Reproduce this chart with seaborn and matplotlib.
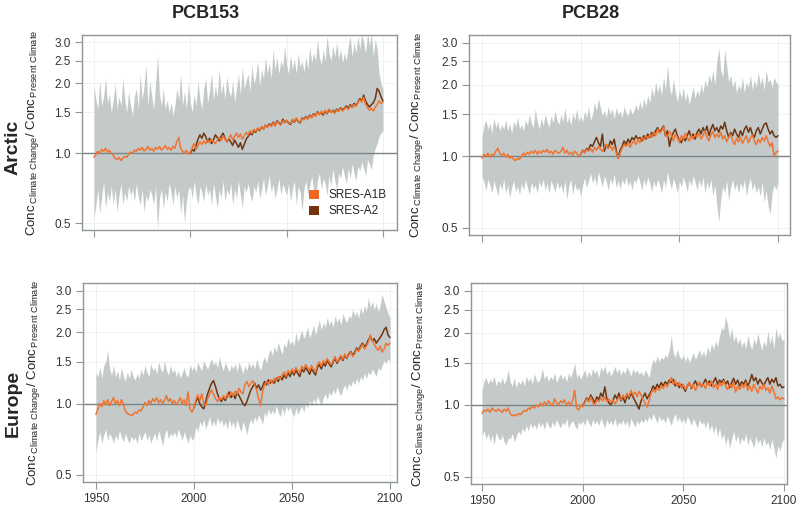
import numpy as np
import pandas as pd
import matplotlib
matplotlib.use("Agg")
import matplotlib.pyplot as plt
import seaborn as sns
from matplotlib.patches import Patch
from matplotlib.ticker import NullLocator, FixedLocator, FixedFormatter

# style
sns.set_theme(style="white")
plt.rcParams['font.family'] = ['Liberation Sans', 'DejaVu Sans']
plt.rcParams['mathtext.fontset'] = 'custom'
plt.rcParams['mathtext.rm'] = 'Liberation Sans'
plt.rcParams['mathtext.it'] = 'Liberation Sans:italic'
plt.rcParams['mathtext.bf'] = 'Liberation Sans:bold'

# === data (yearly 1950-2100) ===
years = list(range(1950, 2101))
years_a2 = list(range(2000, 2101))
col_titles = ["PCB153", "PCB28"]
row_titles = ["Arctic", "Europe"]
scenarios = ["SRES-A1B", "SRES-A2"]
y_ticks = [0.5, 1.0, 1.5, 2.0, 2.5, 3.0]
y_ticklabels = ["0.5", "1.0", "1.5", "2.0", "2.5", "3.0"]
x_ticks = [1950, 2000, 2050, 2100]

# Arctic / PCB153
arc153_upper = [
    1.95, 1.7, 1.55, 2.05, 1.6, 1.75, 2.1, 1.65, 1.8, 1.5,
    1.7, 2.0, 1.55, 1.75, 1.6, 2.1, 1.7, 1.5, 1.85, 1.6,
    1.45, 1.75, 1.9, 1.55, 2.2, 1.7, 1.95, 2.4, 1.6, 2.05,
    1.75, 1.55, 2.0, 2.65, 1.8, 1.6, 1.9, 1.55, 1.7, 1.5,
    1.65, 1.45, 1.6, 1.9, 1.7, 2.2, 1.6, 1.85, 1.55, 2.0,
    1.65, 1.5, 1.8, 1.6, 2.05, 1.7, 1.55, 1.9, 2.1, 1.65,
    1.85, 2.2, 1.7, 1.95, 1.75, 2.3, 1.8, 2.0, 1.7, 2.15,
    1.85, 1.75, 2.05, 1.65, 1.9, 2.2, 1.8, 2.35, 1.9, 2.05,
    2.2, 1.85, 2.4, 2.0, 2.15, 2.5, 1.95, 2.3, 2.1, 2.6,
    2.2, 2.45, 2.1, 2.8, 2.3, 2.6, 2.2, 2.5, 2.35, 2.9,
    2.4, 2.2, 2.65, 2.3, 2.55, 2.2, 2.7, 2.35, 2.5, 2.25,
    2.6, 2.3, 2.9, 2.45, 2.7, 2.5, 3.1, 2.6, 2.4, 2.8,
    2.5, 3.2, 2.7, 2.5, 2.9, 2.6, 3.0, 2.55, 2.8, 2.45,
    2.7, 2.5, 2.9, 3.2, 2.6, 3.0, 2.7, 3.2, 2.8, 3.3,
    3.0, 2.7, 3.3, 2.9, 3.3, 2.6, 3.1, 2.8, 2.2, 2.0,
    1.9]
arc153_lower = [
    0.52, 0.6, 0.7, 0.55, 0.65, 0.75, 0.58, 0.68, 0.62, 0.72,
    0.6, 0.7, 0.56, 0.66, 0.74, 0.6, 0.68, 0.62, 0.72, 0.66,
    0.7, 0.62, 0.74, 0.65, 0.6, 0.7, 0.56, 0.66, 0.62, 0.7,
    0.66, 0.6, 0.72, 0.47, 0.64, 0.7, 0.58, 0.68, 0.62, 0.74,
    0.68, 0.6, 0.72, 0.64, 0.7, 0.55, 0.66, 0.5, 0.62, 0.7,
    0.72, 0.64, 0.76, 0.66, 0.6, 0.72, 0.68, 0.62, 0.74, 0.66,
    0.7, 0.6, 0.74, 0.66, 0.58, 0.7, 0.64, 0.76, 0.62, 0.7,
    0.66, 0.74, 0.6, 0.7, 0.64, 0.76, 0.66, 0.58, 0.72, 0.68,
    0.74, 0.66, 0.62, 0.72, 0.68, 0.76, 0.64, 0.7, 0.78, 0.66,
    0.72, 0.8, 0.68, 0.74, 0.64, 0.7, 0.78, 0.66, 0.74, 0.7,
    0.66, 0.74, 0.62, 0.7, 0.76, 0.6, 0.72, 0.68, 0.56, 0.7,
    0.76, 0.66, 0.72, 0.8, 0.7, 0.64, 0.76, 0.82, 0.7, 0.78,
    0.74, 0.66, 0.8, 0.72, 0.86, 0.76, 0.7, 0.82, 0.78, 0.88,
    0.8, 0.74, 0.86, 0.78, 0.9, 0.82, 0.76, 0.88, 0.84, 0.92,
    0.86, 0.8, 0.94, 0.9, 0.85, 0.98, 1.05, 1.1, 1.18, 1.22,
    1.25]
arc153_a1b = [
    0.96, 0.99, 1.02, 1.0, 1.04, 1.02, 1.05, 1.01, 1.03, 1.0,
    0.98, 0.95, 0.94, 0.96, 0.93, 0.95, 0.97, 0.96, 0.99, 1.01,
    1.0, 1.03, 1.02, 1.05, 1.03, 1.06, 1.02, 1.04, 1.07, 1.03,
    1.05, 1.02, 1.06, 1.04, 1.07, 1.03, 1.05, 1.08, 1.04, 1.06,
    1.03, 1.07, 1.05, 1.12, 1.17, 1.05, 1.02, 1.0, 1.03, 0.99,
    1.01, 1.06, 1.1, 1.04, 1.08, 1.12, 1.09, 1.13, 1.1, 1.14,
    1.11, 1.15, 1.12, 1.1, 1.14, 1.17, 1.13, 1.19, 1.15, 1.12,
    1.16, 1.2, 1.14, 1.18, 1.22, 1.17, 1.21, 1.15, 1.19, 1.23,
    1.2, 1.25, 1.22, 1.27, 1.24, 1.28, 1.26, 1.3, 1.27, 1.32,
    1.29, 1.33, 1.3, 1.35, 1.31, 1.37, 1.34, 1.32, 1.38, 1.35,
    1.39, 1.36, 1.34, 1.4, 1.37, 1.42, 1.38, 1.36, 1.41, 1.39,
    1.43, 1.4, 1.45, 1.42, 1.47, 1.44, 1.5, 1.46, 1.52, 1.48,
    1.53, 1.49, 1.55, 1.5, 1.52, 1.48, 1.54, 1.51, 1.56, 1.52,
    1.55, 1.58, 1.54, 1.6, 1.57, 1.62, 1.59, 1.65, 1.7, 1.66,
    1.74, 1.62, 1.57, 1.53, 1.56, 1.52, 1.58, 1.62, 1.68, 1.64,
    1.66]
arc153_a2 = [
    1.0, 1.04, 1.02, 1.08, 1.15, 1.2, 1.16, 1.22, 1.18, 1.12,
    1.16, 1.1, 1.14, 1.2, 1.17, 1.13, 1.18, 1.22, 1.16, 1.12,
    1.15, 1.12, 1.08, 1.14, 1.1, 1.06, 1.11, 1.04, 1.09, 1.15,
    1.18, 1.22, 1.2, 1.25, 1.23, 1.28, 1.25, 1.3, 1.27, 1.32,
    1.3, 1.34, 1.31, 1.36, 1.32, 1.38, 1.35, 1.33, 1.4, 1.36,
    1.38, 1.35, 1.33, 1.39, 1.36, 1.41, 1.37, 1.35, 1.42, 1.4,
    1.44, 1.41, 1.46, 1.43, 1.48, 1.45, 1.51, 1.47, 1.5, 1.46,
    1.52, 1.48, 1.54, 1.5, 1.53, 1.5, 1.55, 1.52, 1.57, 1.54,
    1.56, 1.6, 1.56, 1.62, 1.58, 1.64, 1.6, 1.66, 1.72, 1.68,
    1.78, 1.68, 1.62, 1.58, 1.62, 1.65, 1.72, 1.9, 1.85, 1.75,
    1.68]

# Arctic / PCB28
arc28_upper = [
    1.2, 1.35, 1.42, 1.3, 1.38, 1.25, 1.45, 1.32, 1.4, 1.28,
    1.36, 1.3, 1.42, 1.28, 1.37, 1.25, 1.4, 1.33, 1.46, 1.3,
    1.36, 1.28, 1.42, 1.35, 1.5, 1.38, 1.32, 1.58, 1.4, 1.3,
    1.45, 1.35, 1.5, 1.4, 1.33, 1.48, 1.38, 1.55, 1.42, 1.36,
    1.5, 1.4, 1.6, 1.38, 1.47, 1.35, 1.52, 1.42, 1.58, 1.4,
    1.48, 1.4, 1.55, 1.45, 1.62, 1.42, 1.5, 1.68, 1.55, 1.75,
    1.6, 1.48, 1.56, 1.45, 1.62, 1.5, 1.58, 1.44, 1.6, 1.5,
    1.55, 1.45, 1.62, 1.52, 1.48, 1.6, 1.5, 1.56, 1.65, 1.55,
    1.7, 1.58, 1.75, 1.62, 1.8, 1.68, 1.95, 1.78, 2.05, 1.85,
    2.0, 1.8, 2.15, 1.9, 2.4, 1.95, 1.8, 2.1, 1.85, 1.7,
    1.9, 1.75, 1.95, 1.7, 1.85, 1.65, 1.8, 1.95, 1.75, 1.9,
    1.8, 2.0, 1.85, 2.1, 1.95, 2.2, 2.05, 2.3, 2.0, 2.5,
    2.85, 2.3, 2.15, 2.8, 2.4, 2.05, 2.2, 1.95, 2.1, 1.85,
    2.0, 1.9, 2.15, 1.85, 2.05, 1.95, 2.2, 1.9, 2.1, 1.95,
    2.25, 2.0, 2.15, 1.9, 2.3, 2.05, 2.1, 1.95, 2.15, 2.05,
    2.0]
arc28_lower = [
    0.82, 0.78, 0.72, 0.8, 0.76, 0.7, 0.79, 0.74, 0.68, 0.77,
    0.72, 0.8, 0.7, 0.76, 0.67, 0.74, 0.79, 0.71, 0.75, 0.69,
    0.77, 0.72, 0.8, 0.74, 0.69, 0.78, 0.73, 0.76, 0.7, 0.79,
    0.74, 0.8, 0.72, 0.77, 0.7, 0.79, 0.75, 0.71, 0.78, 0.73,
    0.76, 0.7, 0.79, 0.66, 0.75, 0.8, 0.69, 0.77, 0.72, 0.74,
    0.68, 0.76, 0.81, 0.74, 0.79, 0.85, 0.77, 0.82, 0.75, 0.86,
    0.8, 0.74, 0.83, 0.78, 0.72, 0.81, 0.76, 0.84, 0.74, 0.79,
    0.73, 0.8, 0.76, 0.82, 0.75, 0.79, 0.72, 0.8, 0.77, 0.83,
    0.78, 0.72, 0.8, 0.75, 0.82, 0.77, 0.71, 0.79, 0.74, 0.8,
    0.76, 0.7, 0.8, 0.74, 0.86, 0.78, 0.73, 0.81, 0.76, 0.7,
    0.79, 0.74, 0.82, 0.77, 0.71, 0.8, 0.75, 0.83, 0.78, 0.72,
    0.8, 0.74, 0.82, 0.7, 0.78, 0.73, 0.8, 0.68, 0.76, 0.62,
    0.53, 0.66, 0.75, 0.7, 0.79, 0.65, 0.74, 0.8, 0.72, 0.77,
    0.7, 0.78, 0.73, 0.8, 0.68, 0.76, 0.81, 0.72, 0.77, 0.7,
    0.75, 0.68, 0.78, 0.64, 0.72, 0.62, 0.57, 0.7, 0.76, 0.72,
    0.78]
arc28_a1b = [
    0.98, 1.02, 1.0, 1.03, 0.99, 1.02, 1.01, 1.05, 1.08, 1.03,
    1.01, 1.03, 0.99, 1.02, 0.98, 1.0, 0.97, 0.96, 0.98, 0.97,
    1.0, 1.03, 1.01, 1.04, 1.02, 1.05, 1.03, 1.06, 1.02, 1.05,
    1.03, 1.06, 1.04, 1.07, 1.03, 1.05, 1.02, 1.06, 1.04, 1.03,
    1.05, 1.09, 1.03, 1.06, 1.02, 1.04, 1.01, 1.05, 1.03, 1.0,
    1.02, 1.06, 1.03, 1.07, 1.05, 1.08, 1.04, 1.09, 1.06, 1.1,
    1.07, 1.05, 1.09, 1.12, 1.08, 1.11, 1.06, 1.1, 1.04, 0.98,
    1.03, 1.08, 1.12, 1.1, 1.14, 1.09, 1.13, 1.16, 1.12, 1.18,
    1.14, 1.2, 1.17, 1.22, 1.19, 1.23, 1.2, 1.26, 1.22, 1.3,
    1.25, 1.28, 1.33, 1.24, 1.2, 1.27, 1.23, 1.16, 1.24, 1.2,
    1.14, 1.22, 1.18, 1.25, 1.2, 1.16, 1.22, 1.18, 1.24, 1.2,
    1.25, 1.18, 1.22, 1.28, 1.2, 1.16, 1.23, 1.27, 1.2, 1.24,
    1.2, 1.26, 1.18, 1.22, 1.15, 1.2, 1.24, 1.16, 1.12, 1.19,
    1.15, 1.2, 1.13, 1.18, 1.22, 1.14, 1.19, 1.23, 1.16, 1.12,
    1.18, 1.14, 1.2, 1.16, 1.22, 1.15, 1.1, 1.14, 1.0, 1.04,
    1.05]
arc28_a2 = [
    1.02, 1.06, 1.04, 1.08, 1.06, 1.12, 1.1, 1.15, 1.2, 1.14,
    1.1, 1.24, 1.05, 1.12, 1.08, 1.16, 1.12, 1.18, 1.06, 0.98,
    1.06, 1.1, 1.16, 1.12, 1.18, 1.14, 1.2, 1.17, 1.22, 1.18,
    1.2, 1.16, 1.22, 1.18, 1.24, 1.2, 1.26, 1.22, 1.28, 1.32,
    1.26, 1.3, 1.34, 1.22, 1.28, 1.1, 1.2, 1.26, 1.3, 1.22,
    1.17, 1.14, 1.2, 1.16, 1.22, 1.28, 1.2, 1.24, 1.18, 1.26,
    1.3, 1.24, 1.32, 1.26, 1.34, 1.22, 1.3, 1.36, 1.28, 1.32,
    1.26, 1.34, 1.3, 1.39, 1.28, 1.2, 1.26, 1.22, 1.3, 1.24,
    1.2, 1.28, 1.22, 1.3, 1.34, 1.26, 1.32, 1.24, 1.2, 1.28,
    1.32, 1.24, 1.3, 1.36, 1.38, 1.3, 1.24, 1.28, 1.22, 1.2,
    1.22]

# Europe / PCB153
eur153_upper = [
    1.35, 1.3, 1.42, 1.28, 1.45, 1.5, 1.68, 1.4, 1.32, 1.45,
    1.3, 1.38, 1.26, 1.42, 1.3, 1.25, 1.36, 1.28, 1.4, 1.3,
    1.26, 1.34, 1.28, 1.4, 1.32, 1.45, 1.36, 1.3, 1.48, 1.38,
    1.42, 1.34, 1.5, 1.4, 1.36, 1.52, 1.38, 1.32, 1.45, 1.35,
    1.4, 1.3, 1.38, 1.28, 1.35, 1.42, 1.32, 1.3, 1.46, 1.38,
    1.44, 1.36, 1.5, 1.42, 1.38, 1.52, 1.45, 1.4, 1.48, 1.55,
    1.46, 1.5, 1.42, 1.58, 1.45, 1.38, 1.5, 1.42, 1.36, 1.46,
    1.4, 1.48, 1.36, 1.5, 1.42, 1.34, 1.45, 1.38, 1.5, 1.42,
    1.48, 1.4, 1.55, 1.45, 1.38, 1.5, 1.58, 1.48, 1.62, 1.7,
    1.6, 1.75, 1.65, 1.82, 1.7, 1.62, 1.8, 1.72, 1.9, 1.78,
    1.85, 1.75, 2.0, 1.82, 1.92, 2.05, 1.88, 1.98, 2.1, 1.9,
    2.0, 2.15, 1.95, 2.1, 2.25, 2.05, 2.2, 2.1, 2.3, 2.15,
    2.25, 2.1, 2.35, 2.2, 2.3, 2.15, 2.4, 2.28, 2.2, 2.35,
    2.3, 2.5, 2.35, 2.45, 2.3, 2.55, 2.4, 2.6, 2.45, 2.8,
    2.55, 2.7, 2.5, 2.65, 2.45, 2.6, 2.9, 2.7, 2.55, 2.4,
    2.3]
eur153_lower = [
    0.62, 0.7, 0.76, 0.68, 0.74, 0.78, 0.7, 0.75, 0.72, 0.68,
    0.74, 0.7, 0.77, 0.72, 0.69, 0.75, 0.71, 0.68, 0.73, 0.7,
    0.72, 0.68, 0.75, 0.7, 0.73, 0.76, 0.7, 0.74, 0.68, 0.72,
    0.75, 0.7, 0.77, 0.72, 0.66, 0.74, 0.78, 0.71, 0.75, 0.73,
    0.76, 0.72, 0.78, 0.74, 0.7, 0.76, 0.72, 0.68, 0.74, 0.7,
    0.72, 0.8, 0.76, 0.84, 0.8, 0.86, 0.78, 0.83, 0.88, 0.8,
    0.85, 0.8, 0.88, 0.82, 0.86, 0.8, 0.84, 0.78, 0.86, 0.8,
    0.84, 0.78, 0.86, 0.8, 0.76, 0.84, 0.8, 0.74, 0.82, 0.86,
    0.82, 0.88, 0.84, 0.9, 0.86, 0.82, 0.92, 0.88, 0.95, 0.9,
    0.94, 0.9, 0.98, 0.92, 0.88, 0.96, 0.9, 0.98, 0.93, 0.97,
    0.92, 0.88, 0.96, 0.9, 0.94, 0.98, 0.92, 1.0, 0.96, 1.03,
    0.98, 1.05, 1.0, 1.08, 1.02, 0.98, 1.06, 1.1, 1.04, 1.12,
    1.08, 1.15, 1.1, 1.18, 1.12, 1.08, 1.16, 1.2, 1.14, 1.22,
    1.18, 1.25, 1.2, 1.28, 1.22, 1.3, 1.26, 1.34, 1.28, 1.36,
    1.32, 1.4, 1.35, 1.3, 1.42, 1.38, 1.45, 1.52, 1.48, 1.55,
    1.5]
eur153_a1b = [
    0.9, 0.95, 1.0, 0.97, 1.03, 0.99, 1.04, 0.98, 1.02, 1.06,
    1.0, 1.03, 0.98, 1.04, 1.0, 0.93, 0.91, 0.9, 0.89, 0.9,
    0.92, 0.91, 0.94, 0.93, 0.97, 1.01, 0.98, 1.03, 1.0, 1.05,
    1.02, 1.06, 1.01, 1.04, 1.0, 1.03, 1.08, 1.02, 1.05, 1.0,
    1.03, 0.99, 1.02, 1.06, 1.0, 1.04, 0.98, 1.12, 0.95, 0.92,
    0.96, 1.04, 1.09, 1.03, 1.1, 1.0, 0.98, 1.05, 1.1, 1.14,
    1.1, 1.05, 1.02, 1.06, 1.04, 1.08, 1.05, 1.1, 1.07, 1.12,
    1.08, 1.13, 1.1, 1.16, 1.12, 1.1, 1.2, 1.24, 1.18, 1.22,
    1.25, 1.2, 1.14, 1.05, 0.98, 1.12, 1.2, 1.24, 1.2, 1.26,
    1.22, 1.28, 1.25, 1.3, 1.27, 1.32, 1.36, 1.3, 1.38, 1.34,
    1.4, 1.35, 1.42, 1.38, 1.35, 1.44, 1.4, 1.46, 1.42, 1.38,
    1.45, 1.4, 1.36, 1.46, 1.5, 1.44, 1.52, 1.48, 1.55, 1.5,
    1.46, 1.52, 1.58, 1.5, 1.55, 1.6, 1.54, 1.62, 1.56, 1.6,
    1.65, 1.58, 1.62, 1.7, 1.66, 1.72, 1.78, 1.7, 1.75, 1.82,
    1.95, 1.85, 1.78, 1.72, 1.68, 1.75, 1.65, 1.7, 1.8, 1.76,
    1.8]
eur153_a2 = [
    0.96, 1.02, 1.06, 1.0, 0.97, 0.95, 1.02, 1.1, 1.16, 1.22,
    1.25, 1.18, 1.1, 1.05, 1.02, 1.06, 1.03, 1.08, 1.12, 1.06,
    1.1, 1.05, 1.12, 1.08, 1.04, 1.0, 0.98, 1.02, 1.08, 1.14,
    1.18, 1.22, 1.16, 1.2, 1.14, 1.18, 1.24, 1.2, 1.26, 1.22,
    1.25, 1.22, 1.28, 1.24, 1.3, 1.26, 1.32, 1.28, 1.35, 1.3,
    1.37, 1.32, 1.38, 1.34, 1.3, 1.4, 1.36, 1.42, 1.38, 1.33,
    1.4, 1.36, 1.32, 1.42, 1.46, 1.4, 1.48, 1.44, 1.52, 1.47,
    1.43, 1.5, 1.55, 1.48, 1.53, 1.58, 1.52, 1.6, 1.55, 1.62,
    1.66, 1.6, 1.65, 1.72, 1.68, 1.75, 1.8, 1.74, 1.78, 1.86,
    1.92, 1.84, 1.88, 1.8, 1.85, 1.9, 1.96, 2.05, 2.1, 1.95,
    1.9]

# Europe / PCB28
eur28_upper = [
    1.15, 1.26, 1.3, 1.22, 1.28, 1.24, 1.32, 1.2, 1.27, 1.23,
    1.3, 1.22, 1.28, 1.4, 1.25, 1.2, 1.3, 1.18, 1.26, 1.22,
    1.28, 1.2, 1.32, 1.25, 1.3, 1.22, 1.35, 1.27, 1.24, 1.3,
    1.42, 1.28, 1.34, 1.25, 1.32, 1.27, 1.36, 1.24, 1.3, 1.35,
    1.28, 1.33, 1.25, 1.36, 1.3, 1.38, 1.5, 1.3, 1.35, 1.28,
    1.34, 1.4, 1.3, 1.38, 1.32, 1.42, 1.35, 1.4, 1.3, 1.44,
    1.38, 1.46, 1.34, 1.4, 1.32, 1.38, 1.45, 1.36, 1.42, 1.33,
    1.4, 1.35, 1.44, 1.38, 1.32, 1.42, 1.36, 1.4, 1.34, 1.38,
    1.32, 1.4, 1.36, 1.3, 1.45, 1.55, 1.5, 1.6, 1.52, 1.58,
    1.55, 1.62, 1.58, 1.7, 1.95, 1.65, 1.58, 1.7, 1.6, 1.55,
    1.62, 1.52, 1.6, 1.5, 1.58, 1.65, 1.55, 1.62, 1.7, 1.6,
    1.68, 1.58, 1.75, 1.65, 1.8, 1.7, 1.85, 1.75, 1.95, 2.1,
    2.05, 2.35, 2.15, 1.9, 2.1, 1.85, 1.95, 1.8, 1.9, 1.75,
    1.85, 1.72, 1.95, 1.8, 1.7, 1.9, 1.78, 2.0, 1.82, 1.7,
    1.85, 1.75, 2.05, 1.8, 1.95, 1.72, 2.1, 1.9, 2.0, 1.85,
    1.9]
eur28_lower = [
    0.74, 0.78, 0.72, 0.76, 0.7, 0.75, 0.68, 0.77, 0.73, 0.71,
    0.75, 0.7, 0.68, 0.73, 0.72, 0.76, 0.7, 0.74, 0.78, 0.75,
    0.8, 0.77, 0.82, 0.78, 0.84, 0.8, 0.83, 0.79, 0.85, 0.81,
    0.84, 0.79, 0.86, 0.82, 0.8, 0.85, 0.81, 0.87, 0.83, 0.8,
    0.85, 0.82, 0.88, 0.8, 0.84, 0.86, 0.82, 0.79, 0.85, 0.83,
    0.86, 0.82, 0.88, 0.84, 0.81, 0.87, 0.83, 0.86, 0.82, 0.88,
    0.84, 0.8, 0.87, 0.83, 0.86, 0.82, 0.88, 0.81, 0.85, 0.83,
    0.87, 0.82, 0.86, 0.8, 0.88, 0.84, 0.81, 0.86, 0.83, 0.87,
    0.84, 0.88, 0.85, 0.9, 0.86, 0.92, 0.88, 0.84, 0.9, 0.86,
    0.88, 0.84, 0.9, 0.86, 0.82, 0.88, 0.92, 0.85, 0.89, 0.84,
    0.88, 0.83, 0.9, 0.86, 0.82, 0.88, 0.84, 0.8, 0.87, 0.83,
    0.85, 0.8, 0.86, 0.78, 0.83, 0.76, 0.82, 0.74, 0.8, 0.72,
    0.76, 0.68, 0.74, 0.66, 0.72, 0.78, 0.7, 0.75, 0.68, 0.73,
    0.7, 0.76, 0.68, 0.73, 0.7, 0.66, 0.74, 0.69, 0.72, 0.67,
    0.73, 0.68, 0.7, 0.65, 0.72, 0.66, 0.6, 0.68, 0.64, 0.7,
    0.72]
eur28_a1b = [
    0.92, 0.95, 0.94, 0.96, 0.93, 0.97, 0.95, 0.94, 0.96, 0.95,
    0.93, 0.96, 0.94, 0.97, 0.92, 0.9, 0.91, 0.9, 0.92, 0.91,
    0.93, 0.95, 0.94, 0.97, 0.96, 0.99, 0.97, 1.0, 0.98, 1.02,
    0.99, 1.03, 1.0, 1.04, 1.01, 0.99, 1.06, 1.02, 1.0, 1.04,
    1.02, 1.05, 0.99, 1.03, 1.0, 1.04, 1.15, 0.97, 0.95, 1.0,
    0.98, 1.02, 1.06, 1.03, 1.08, 1.02, 1.0, 1.05, 1.03, 1.07,
    1.04, 1.08, 1.03, 1.06, 1.02, 1.05, 1.01, 1.04, 1.08, 1.05,
    1.1, 1.06, 1.12, 1.08, 1.15, 1.1, 1.13, 1.08, 1.14, 1.1,
    1.05, 1.02, 0.98, 1.04, 1.12, 1.16, 1.13, 1.18, 1.15, 1.2,
    1.17, 1.22, 1.19, 1.24, 1.3, 1.22, 1.26, 1.2, 1.24, 1.18,
    1.22, 1.16, 1.2, 1.24, 1.18, 1.22, 1.15, 1.2, 1.25, 1.19,
    1.22, 1.17, 1.24, 1.2, 1.26, 1.18, 1.22, 1.16, 1.24, 1.2,
    1.26, 1.2, 1.16, 1.22, 1.18, 1.24, 1.13, 1.2, 1.16, 1.22,
    1.18, 1.24, 1.15, 1.2, 1.14, 1.22, 1.17, 1.12, 1.2, 1.16,
    1.22, 1.15, 1.18, 1.12, 1.2, 1.14, 1.06, 1.08, 1.05, 1.07,
    1.06]
eur28_a2 = [
    0.99, 1.03, 1.07, 1.04, 1.1, 1.06, 1.02, 1.08, 1.05, 1.12,
    1.08, 1.19, 1.06, 1.02, 1.0, 1.04, 1.1, 1.06, 1.12, 1.04,
    1.08, 1.02, 1.1, 1.06, 1.12, 1.08, 1.04, 1.0, 0.96, 1.04,
    1.08, 1.12, 1.06, 1.1, 1.14, 1.2, 1.16, 1.22, 1.18, 1.24,
    1.2, 1.25, 1.22, 1.27, 1.24, 1.28, 1.2, 1.23, 1.18, 1.22,
    1.18, 1.14, 1.2, 1.24, 1.17, 1.22, 1.26, 1.2, 1.24, 1.19,
    1.23, 1.28, 1.22, 1.26, 1.2, 1.25, 1.3, 1.22, 1.27, 1.24,
    1.28, 1.22, 1.26, 1.18, 1.24, 1.29, 1.22, 1.27, 1.2, 1.25,
    1.22, 1.27, 1.2, 1.25, 1.34, 1.26, 1.3, 1.22, 1.28, 1.24,
    1.2, 1.26, 1.3, 1.22, 1.28, 1.24, 1.3, 1.2, 1.22, 1.18,
    1.19]

# === layout / colours ===
band_col = "#c4caca"
line_cols = {"SRES-A1B": "#ef7432", "SRES-A2": "#6e3510"}
legend_cols = {"SRES-A1B": "#f26522", "SRES-A2": "#73340c"}
frame_col = "#8e9696"

panels = [
    dict(rect=[0.1028, 0.5499, 0.3947, 0.3816], xlim=(1943.8, 2107.3),
         upper=arc153_upper, lower=arc153_lower, a1b=arc153_a1b, a2=arc153_a2,
         bottom_labels=False, legend=True, lab_x=-0.13),
    dict(rect=[0.5877, 0.5401, 0.4023, 0.3914], xlim=(1943.4, 2106.1),
         upper=arc28_upper, lower=arc28_lower, a1b=arc28_a1b, a2=arc28_a2,
         bottom_labels=False, legend=False, lab_x=-0.137),
    dict(rect=[0.1040, 0.0568, 0.3935, 0.3894], xlim=(1943.4, 2103.6),
         upper=eur153_upper, lower=eur153_lower, a1b=eur153_a1b, a2=eur153_a2,
         bottom_labels=True, legend=False, lab_x=-0.13),
    dict(rect=[0.5902, 0.0528, 0.3960, 0.3933], xlim=(1944.5, 2101.5),
         upper=eur28_upper, lower=eur28_lower, a1b=eur28_a1b, a2=eur28_a2,
         bottom_labels=True, legend=False, lab_x=-0.139),
]

ylab = (r"Conc$_{\,\mathrm{Climate\ Change}}$/ "
        r"Conc$_{\,\mathrm{Present\ Climate}}$")

fig = plt.figure(figsize=(7.98, 5.11), dpi=100)

for p in panels:
    ax = fig.add_axes(p["rect"])
    ax.set_yscale("log")

    # spread of the ensemble
    ax.fill_between(years, p["lower"], p["upper"], color=band_col, lw=0, zorder=1)
    ax.axhline(1.0, color="#7a8484", lw=1.0, zorder=2)

    df = pd.concat([
        pd.DataFrame({"year": years_a2, "ratio": p["a2"], "scenario": "SRES-A2"}),
        pd.DataFrame({"year": years, "ratio": p["a1b"], "scenario": "SRES-A1B"}),
    ])
    # A2 drawn first so the A1B line sits on top
    sns.lineplot(data=df, x="year", y="ratio", hue="scenario",
                 hue_order=["SRES-A2", "SRES-A1B"], palette=line_cols,
                 lw=1.1, ax=ax, legend=False, zorder=3)

    ax.set_xlim(*p["xlim"])
    ax.set_ylim(0.467, 3.23)
    ax.yaxis.set_major_locator(FixedLocator(y_ticks))
    ax.yaxis.set_major_formatter(FixedFormatter(y_ticklabels))
    ax.yaxis.set_minor_locator(NullLocator())
    ax.set_xticks(x_ticks)
    ax.set_xticklabels([str(t) for t in x_ticks])

    ax.grid(True, color="#efefef", lw=0.6, zorder=0)
    ax.set_axisbelow(True)

    for spine in ax.spines.values():
        spine.set_edgecolor(frame_col)
        spine.set_linewidth(1.0)

    ax.tick_params(axis="both", which="major", direction="out", length=5,
                   width=0.8, color=frame_col, labelsize=8.5,
                   labelcolor="#333333", pad=3, left=True, bottom=True)
    if not p["bottom_labels"]:
        ax.tick_params(axis="x", labelbottom=False)

    ax.set_xlabel("")
    ax.set_ylabel(ylab, fontsize=9.5, color="#222222")
    ax.yaxis.set_label_coords(p["lab_x"], 0.5)

    if p["legend"]:
        handles = [Patch(facecolor=legend_cols[s], edgecolor="none", label=s)
                   for s in scenarios]
        ax.legend(handles=handles, loc="lower right", frameon=False,
                  fontsize=8.5, handlelength=0.8, handleheight=0.8,
                  handletextpad=0.8, labelspacing=0.35,
                  bbox_to_anchor=(1.0, 0.01))

# titles
fig.text(206 / 798, 1 - 13 / 511, col_titles[0], ha="center", va="center",
         fontsize=13, fontweight="bold")
fig.text(591 / 798, 1 - 13 / 511, col_titles[1], ha="center", va="center",
         fontsize=13, fontweight="bold")
fig.text(13 / 798, 1 - 147 / 511, row_titles[0], ha="center", va="center",
         rotation=90, fontsize=14, fontweight="bold")
fig.text(13 / 798, 1 - 403 / 511, row_titles[1], ha="center", va="center",
         rotation=90, fontsize=14, fontweight="bold")

fig.savefig("out.png", dpi=100)
plt.close(fig)
